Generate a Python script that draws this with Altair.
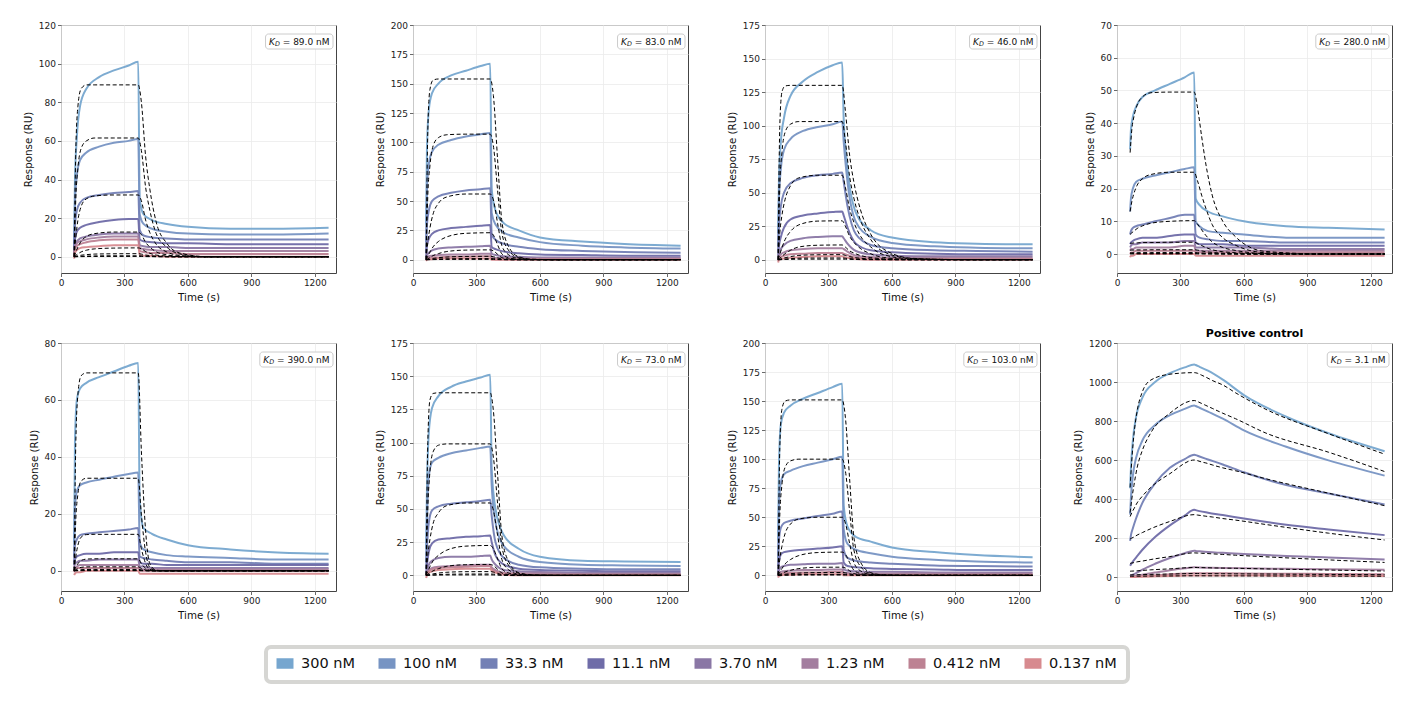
import altair as alt
import pandas as pd

FONT = "DejaVu Sans"

CONC = ["300 nM", "100 nM", "33.3 nM", "11.1 nM", "3.70 nM", "1.23 nM", "0.412 nM", "0.137 nM"]
COLORS = ["#76a6cf", "#7794c3", "#7380b5", "#6f6ca8", "#8a77a5", "#a37e9f", "#bd8293", "#d78a8f"]

T_OBS = [62, 66, 75, 90, 120, 180, 250, 320, 365, 372, 390, 430, 500, 600, 800, 1000, 1265]
T_FIT = [62, 70, 80, 95, 120, 160, 250, 365, 380, 400, 420, 450, 500, 560, 700, 1000, 1265]
X_TICKS = [0, 300, 600, 900, 1200]

KD_TEXT = ["89.0", "83.0", "46.0", "280.0", "390.0", "73.0", "103.0", "3.1"]
TITLES = ["", "", "", "", "", "", "", "Positive control"]
Y_MIN = [-8.4, -11.3, -9.9, -5.8, -7.1, -11.8, -13.5, -71.5]
Y_MAX = [120, 200, 175, 70, 80, 175, 200, 1200]
Y_STEP = [20, 25, 25, 10, 20, 25, 25, 200]

# ---------------- panel 1 (KD 89 nM) ----------------
P1_OBS = [
    [5, 40, 62, 78, 87, 93, 96.5, 99, 101, 30, 22, 19, 17, 15.5, 14.5, 14.5, 15],
    [3, 28, 42, 50, 54, 57, 59, 60, 61, 22, 17, 14.5, 13, 12, 11.5, 11.5, 12],
    [2, 16, 24, 28, 30.5, 32, 33, 33.5, 34, 14, 11, 10, 9.5, 9, 9, 9, 9],
    [1, 9, 13, 15, 16.5, 18, 19, 19.5, 19.5, 9, 8, 7.5, 7, 7, 6.5, 6.5, 6.5],
    [1, 6, 8, 9.5, 10.5, 11.5, 12, 12, 12, 6, 5.5, 5, 5, 4.5, 4.5, 4.5, 4.5],
    [0.5, 5, 7, 8, 9, 10, 10.5, 10.5, 10.5, 4.5, 4, 3.5, 3, 3, 3, 3, 3],
    [0, 4, 5.5, 6.5, 7.5, 8.5, 9, 9, 9, 3, 2.5, 2, 2, 1.5, 1.5, 1.5, 1.5],
    [-1, 2, 3.5, 4.5, 5, 5.5, 6, 6, 6, 1, 0.5, 0.5, 0, 0, 0, 0, 0],
]
P1_FIT = [
    [0, 55, 78, 87, 89, 89, 89, 89, 80, 52, 35, 18, 7, 2, 0, 0, 0],
    [0, 30, 46, 56, 60, 61.5, 61.5, 61.5, 55, 36, 24, 12, 5, 1.5, 0, 0, 0],
    [0, 10, 19, 26, 30, 31.5, 32, 32, 29, 19, 12.5, 6.5, 2.5, 0.7, 0, 0, 0],
    [0, 2.5, 5, 8, 10.5, 12, 12.8, 12.8, 11.5, 7.5, 5, 2.6, 1, 0.3, 0, 0, 0],
    [0, 0.7, 1.5, 2.5, 3.4, 4.1, 4.5, 4.6, 4.1, 2.7, 1.8, 0.9, 0.4, 0.1, 0, 0, 0],
    [0, 0.2, 0.5, 0.8, 1.1, 1.4, 1.55, 1.6, 1.4, 0.9, 0.6, 0.3, 0.1, 0, 0, 0, 0],
    [0, 0.1, 0.15, 0.25, 0.35, 0.45, 0.5, 0.5, 0.45, 0.3, 0.2, 0.1, 0.05, 0, 0, 0, 0],
    [0, 0.02, 0.05, 0.08, 0.12, 0.15, 0.18, 0.18, 0.16, 0.1, 0.07, 0.03, 0.01, 0, 0, 0, 0],
]

# ---------------- panel 2 (KD 83 nM) ----------------
P2_OBS = [
    [30, 95, 128, 142, 150, 157, 161, 165, 167, 60, 42, 31, 25, 19, 15.5, 13.5, 12],
    [15, 60, 82, 92, 98, 102, 105, 107, 108, 40, 30, 23, 19, 15, 12, 10.5, 9.5],
    [6, 30, 42, 50, 54, 57, 59, 60, 61, 22, 17, 13.5, 11, 9, 7.5, 6.5, 6],
    [2, 12, 18, 22, 25, 27, 28, 29, 29.5, 11, 9, 7, 5.5, 4.5, 4, 3.5, 3.5],
    [1, 4, 6, 8, 9.5, 10.5, 11, 11.5, 12, 5, 4, 3, 2.5, 2, 2, 2, 2],
    [0, 2, 3, 3.5, 4, 4.5, 4.5, 5, 5, 2, 1.5, 1.5, 1, 1, 1, 1, 1],
    [0, 1, 1.5, 2, 2, 2.5, 2.5, 3, 3, 1, 0.5, 0.5, 0.5, 0.5, 0.5, 0.5, 0.5],
    [-1, 0, 0.5, 0.5, 1, 1, 1, 1, 1, 0, 0, 0, 0, 0, 0, 0, 0],
]
P2_FIT = [
    [0, 110, 145, 153, 154, 154, 154, 154, 140, 85, 33, 12, 2.5, 0.5, 0, 0, 0],
    [0, 55, 80, 97, 104, 106.5, 107, 107, 97, 59, 23, 8.5, 1.8, 0.3, 0, 0, 0],
    [0, 15, 27, 39, 48, 53.5, 56, 56, 51, 31, 12, 4.5, 1, 0.2, 0, 0, 0],
    [0, 3, 6.5, 11, 15.5, 19.5, 22.5, 23, 21, 12.7, 5, 1.8, 0.4, 0.1, 0, 0, 0],
    [0, 0.8, 2, 3.5, 5.2, 7, 8.2, 8.4, 7.6, 4.6, 1.8, 0.7, 0.15, 0, 0, 0, 0],
    [0, 0.3, 0.6, 1.1, 1.7, 2.3, 2.8, 2.9, 2.6, 1.6, 0.6, 0.2, 0.05, 0, 0, 0, 0],
    [0, 0.1, 0.2, 0.4, 0.6, 0.8, 0.95, 1.0, 0.9, 0.55, 0.2, 0.08, 0, 0, 0, 0, 0],
    [0, 0.03, 0.07, 0.12, 0.2, 0.26, 0.3, 0.3, 0.27, 0.17, 0.07, 0.02, 0, 0, 0, 0, 0],
]

# ---------------- panel 3 (KD 46 nM) ----------------
P3_OBS = [
    [20, 60, 88, 106, 122, 133, 140, 145, 147, 105, 68, 35, 22, 16.5, 13, 12, 11.5],
    [10, 45, 68, 82, 90, 96, 99, 101, 103, 88, 58, 28, 17, 12.5, 10, 9, 8.5],
    [6, 25, 40, 50, 57, 61, 63, 64, 65, 58, 40, 19, 11, 8.5, 7, 6.5, 6],
    [3, 10, 17, 24, 30, 33, 34.5, 35.5, 36, 33, 24, 12, 7, 5.5, 4.5, 4, 4],
    [1, 4, 8, 11, 14, 16, 17, 17.5, 17.5, 16, 12, 6.5, 4, 3, 2.5, 2.5, 2.5],
    [0, 2, 4, 5.5, 7, 8, 8.5, 8.5, 8.5, 8, 6, 3, 2, 1.5, 1.5, 1.5, 1.5],
    [-1, 1, 2, 3, 4, 4.5, 5, 5, 5, 4.5, 3.5, 1.5, 1, 0.5, 0.5, 0.5, 0.5],
    [-2, 0, 0.5, 1, 1.5, 2, 2.5, 2.5, 2.5, 2, 1.5, 0.5, 0, 0, 0, 0, 0],
]
P3_FIT = [
    [0, 100, 125, 129.5, 130, 130, 130, 130, 111, 78, 58, 38, 19, 8, 1, 0, 0],
    [0, 55, 80, 95, 101, 103, 103, 103, 88, 62, 46, 30, 15, 6, 0.8, 0, 0],
    [0, 20, 33, 45, 55, 61, 63, 63, 54, 38, 28, 18, 9.5, 3.8, 0.5, 0, 0],
    [0, 4, 9, 15, 21, 26, 28.8, 29, 25, 17.5, 13, 8.5, 4.4, 1.7, 0.2, 0, 0],
    [0, 1, 2.5, 4.5, 7, 9.5, 10.8, 11, 9.4, 6.6, 5, 3.2, 1.6, 0.7, 0.1, 0, 0],
    [0, 0.3, 0.8, 1.5, 2.3, 3.2, 3.7, 3.8, 3.2, 2.3, 1.7, 1.1, 0.6, 0.2, 0, 0, 0],
    [0, 0.1, 0.25, 0.5, 0.8, 1.1, 1.28, 1.3, 1.1, 0.8, 0.6, 0.4, 0.2, 0.08, 0, 0, 0],
    [0, 0.03, 0.08, 0.17, 0.27, 0.37, 0.44, 0.45, 0.38, 0.27, 0.2, 0.13, 0.07, 0.03, 0, 0, 0],
]

# ---------------- panel 4 (KD 280 nM) ----------------
P4_OBS = [
    [32, 38, 42, 45, 48, 50, 52, 54, 55.5, 17, 15, 13, 11.5, 10, 8.5, 8, 7.5],
    [13, 17, 20, 22, 23, 24, 25, 26, 26.5, 10, 8.5, 7, 6.5, 6, 5, 5, 5],
    [6, 7, 8, 8.5, 9, 10, 11, 12, 12, 6, 5, 4.5, 4, 4, 3.5, 3.5, 3.5],
    [3, 3.5, 4, 4.5, 5, 5, 5.5, 6, 6, 3.5, 3, 3, 3, 2.5, 2.5, 2.5, 2.5],
    [2, 2.5, 3, 3, 3.5, 3.5, 3.5, 4, 4, 2, 2, 2, 2, 2, 1.5, 1.5, 1.5],
    [1, 1.5, 1.5, 2, 2, 2, 2, 2.5, 2.5, 1, 1, 1, 1, 1, 1, 1, 1],
    [0, 0.5, 0.5, 1, 1, 1, 1, 1, 1, 0.5, 0.5, 0.5, 0.5, 0.5, 0.5, 0.5, 0.5],
    [-1, -0.5, -0.5, 0, 0, 0, 0, 0, 0, -0.5, -0.5, -0.5, -0.5, -0.5, -0.5, -0.5, -0.5],
]
P4_FIT = [
    [31, 38, 42, 45.5, 48, 49.3, 49.5, 49.5, 45, 36, 27.5, 18, 10, 5.3, 0.8, 0, 0],
    [13, 16, 18.5, 21, 23, 24.3, 25, 25, 22.5, 18, 14, 9, 5, 2.7, 0.4, 0, 0],
    [6, 6.5, 7, 7.8, 8.6, 9.4, 10, 10.2, 9.2, 7.4, 5.7, 3.7, 2, 1.1, 0.15, 0, 0],
    [3.3, 3.3, 3.4, 3.4, 3.5, 3.5, 3.6, 3.6, 3.2, 2.6, 2, 1.3, 0.7, 0.4, 0.05, 0, 0],
    [1.2, 1.2, 1.2, 1.25, 1.25, 1.3, 1.3, 1.3, 1.2, 0.95, 0.7, 0.5, 0.25, 0.14, 0, 0, 0],
    [0.4, 0.4, 0.4, 0.42, 0.43, 0.44, 0.45, 0.45, 0.4, 0.32, 0.25, 0.16, 0.09, 0.05, 0, 0, 0],
    [0.13, 0.13, 0.14, 0.14, 0.14, 0.15, 0.15, 0.15, 0.13, 0.11, 0.08, 0.05, 0.03, 0.02, 0, 0, 0],
    [0.04, 0.04, 0.05, 0.05, 0.05, 0.05, 0.05, 0.05, 0.045, 0.035, 0.03, 0.02, 0.01, 0.005, 0, 0, 0],
]

# ---------------- panel 5 (KD 390 nM) ----------------
P5_OBS = [
    [10, 45, 60, 64, 66, 68, 70, 72, 73, 25, 15, 13, 11, 9, 7.5, 6.5, 6],
    [5, 22, 28, 30, 31, 32, 33, 34, 34.5, 10, 7.5, 6.5, 5.5, 5, 4.5, 4, 4],
    [3, 9, 11, 12.5, 13, 13.5, 14, 14.5, 15, 5, 4.5, 4, 3.5, 3, 3, 2.5, 2.5],
    [2, 4, 5, 5.5, 6, 6, 6.5, 6.5, 6.5, 3, 2.5, 2.5, 2, 2, 2, 2, 2],
    [1, 2.5, 3, 3.5, 3.5, 4, 4, 4, 4, 1.5, 1.5, 1, 1, 1, 1, 1, 1],
    [0, 1, 1.5, 2, 2, 2, 2, 2, 2, 0.5, 0.5, 0.5, 0.5, 0.5, 0.5, 0.5, 0.5],
    [-0.5, 0.5, 1, 1, 1, 1, 1, 1, 1, 0, 0, 0, 0, 0, 0, 0, 0],
    [-1.5, -1, -0.5, -0.5, 0, 0, 0, 0, 0, -1, -1, -1, -1, -1, -1, -1, -1],
]
P5_FIT = [
    [0, 45, 62, 68.5, 69.5, 69.5, 69.5, 69.5, 42, 14, 2.5, 0.2, 0, 0, 0, 0, 0],
    [0, 18, 27, 31.5, 32.5, 32.5, 32.5, 32.5, 19.5, 6.5, 1.2, 0.1, 0, 0, 0, 0, 0],
    [0, 5, 9, 11.8, 12.7, 12.8, 12.8, 12.8, 7.7, 2.6, 0.5, 0.05, 0, 0, 0, 0, 0],
    [0, 1.3, 2.5, 3.6, 4.1, 4.2, 4.2, 4.2, 2.5, 0.85, 0.15, 0, 0, 0, 0, 0, 0],
    [0, 0.4, 0.8, 1.2, 1.37, 1.4, 1.4, 1.4, 0.85, 0.28, 0.05, 0, 0, 0, 0, 0, 0],
    [0, 0.13, 0.27, 0.4, 0.46, 0.47, 0.47, 0.47, 0.28, 0.1, 0.02, 0, 0, 0, 0, 0, 0],
    [0, 0.05, 0.09, 0.13, 0.15, 0.16, 0.16, 0.16, 0.1, 0.03, 0, 0, 0, 0, 0, 0, 0],
    [0, 0.015, 0.03, 0.045, 0.05, 0.05, 0.05, 0.05, 0.03, 0.01, 0, 0, 0, 0, 0, 0, 0],
]

# ---------------- panel 6 (KD 73 nM) ----------------
P6_OBS = [
    [20, 65, 108, 126, 135, 142, 146, 149, 151, 80, 50, 30, 20, 14, 11, 10.5, 10],
    [10, 40, 75, 85, 88.5, 92, 94, 96, 97, 68, 40, 22, 14, 10, 8, 7.5, 7],
    [5, 20, 40, 49, 52, 54, 55, 56, 57, 45, 25, 13, 8, 6, 5, 4.5, 4.5],
    [2, 8, 18, 24, 27, 28, 29, 29.5, 30, 25, 15, 8, 5, 4, 3.5, 3, 3],
    [1, 3, 8, 11, 13, 14, 14, 14.5, 15, 12, 8, 4, 3, 2.5, 2, 2, 2],
    [0, 2, 4, 5.5, 6.5, 7, 7.5, 8, 8, 6, 4, 2, 1.5, 1.5, 1, 1, 1],
    [0, 1.5, 3, 4.5, 5.5, 6, 6.5, 7, 7, 5, 3, 1.5, 1, 0.5, 0.5, 0.5, 0.5],
    [-2, 0, 2, 3, 4, 4.5, 5, 5, 5, 3.5, 2, 0.5, 0, 0, 0, 0, 0],
]
P6_FIT = [
    [0, 100, 132, 137, 137.5, 137.5, 137.5, 137.5, 124, 76, 30, 11, 2, 0.4, 0, 0, 0],
    [0, 50, 78, 93, 98, 99, 99, 99, 89, 54, 22, 8, 1.5, 0.3, 0, 0, 0],
    [0, 15, 27, 39, 47, 52.5, 54.5, 54.5, 49, 30, 12, 4.4, 0.8, 0.15, 0, 0, 0],
    [0, 3, 6.5, 11, 15, 19, 22, 22.5, 20, 12.4, 5, 1.8, 0.35, 0.07, 0, 0, 0],
    [0, 0.8, 1.9, 3.4, 5, 6.8, 8, 8.2, 7.4, 4.5, 1.8, 0.65, 0.12, 0, 0, 0, 0],
    [0, 0.25, 0.6, 1.1, 1.7, 2.3, 2.75, 2.8, 2.5, 1.5, 0.6, 0.2, 0.04, 0, 0, 0, 0],
    [0, 0.08, 0.2, 0.37, 0.58, 0.8, 0.97, 1.0, 0.9, 0.55, 0.22, 0.08, 0.015, 0, 0, 0, 0],
    [0, 0.03, 0.07, 0.12, 0.19, 0.26, 0.3, 0.3, 0.27, 0.17, 0.07, 0.02, 0, 0, 0, 0, 0],
]

# ---------------- panel 7 (KD 103 nM) ----------------
P7_OBS = [
    [30, 95, 130, 140, 146, 152, 157, 162, 165, 60, 42, 33, 29, 24, 20, 17.5, 15.5],
    [15, 60, 80, 87, 90, 94, 97, 100, 102, 40, 27, 22, 19, 16, 13.5, 12, 11],
    [8, 30, 41, 45, 47, 49, 51, 53, 55, 22, 15, 12.5, 11, 10, 8.5, 8, 7.5],
    [3, 12, 18, 20, 21, 22, 23, 24, 25, 11, 8, 7, 6, 5.5, 5, 4.5, 4.5],
    [1, 4, 7, 8, 9, 9.5, 10, 10, 10.5, 5, 4, 3.5, 3, 3, 2.5, 2.5, 2.5],
    [0, 1.5, 3, 3.5, 4, 4.5, 4.5, 5, 5, 2.5, 2, 1.5, 1.5, 1.5, 1.5, 1.5, 1.5],
    [-1, 0.5, 1.5, 2, 2, 2.5, 2.5, 3, 3, 1, 1, 0.5, 0.5, 0.5, 0.5, 0.5, 0.5],
    [-2, -0.5, 0, 0.5, 0.5, 1, 1, 1, 1, 0, 0, 0, 0, 0, 0, 0, 0],
]
P7_FIT = [
    [0, 110, 143, 150, 151, 151, 151, 151, 136, 83, 33, 12, 2.3, 0.4, 0, 0, 0],
    [0, 52, 78, 93, 98.5, 100, 100, 100, 90, 55, 22, 8, 1.5, 0.3, 0, 0, 0],
    [0, 14, 25, 36, 44, 48.5, 50, 50, 45, 27.5, 11, 4, 0.75, 0.15, 0, 0, 0],
    [0, 2.7, 5.8, 9.8, 13.5, 17, 19.6, 20, 18, 11, 4.4, 1.6, 0.3, 0.06, 0, 0, 0],
    [0, 0.7, 1.6, 2.9, 4.3, 5.8, 6.9, 7, 6.3, 3.9, 1.5, 0.55, 0.1, 0, 0, 0, 0],
    [0, 0.2, 0.5, 0.9, 1.4, 1.9, 2.35, 2.4, 2.15, 1.3, 0.53, 0.19, 0.04, 0, 0, 0, 0],
    [0, 0.07, 0.17, 0.3, 0.47, 0.64, 0.78, 0.8, 0.72, 0.44, 0.18, 0.06, 0.01, 0, 0, 0, 0],
    [0, 0.02, 0.06, 0.1, 0.16, 0.21, 0.26, 0.27, 0.24, 0.15, 0.06, 0.02, 0, 0, 0, 0, 0],
]

# ---------------- panel 8 (positive control, KD 3.1 nM) ----------------
P8_OBS = [
    [455, 560, 700, 820, 920, 1000, 1045, 1075, 1090, 1087, 1078, 1058, 1012, 933, 822, 737, 645],
    [320, 410, 520, 610, 700, 780, 830, 862, 880, 877, 868, 848, 812, 752, 668, 598, 520],
    [185, 215, 250, 300, 380, 480, 560, 605, 627, 625, 618, 603, 577, 537, 472, 428, 372],
    [58, 65, 80, 100, 140, 205, 265, 315, 345, 343, 338, 330, 318, 300, 268, 244, 215],
    [5, 8, 12, 20, 38, 68, 98, 122, 135, 134, 132, 128, 124, 118, 108, 100, 90],
    [0, 1, 3, 6, 12, 23, 35, 45, 50, 50, 49, 48, 47, 45, 42, 40, 37],
    [0, 0.5, 1, 2, 5, 9, 14, 18, 20, 20, 20, 19.5, 19, 18, 17, 16, 14],
    [0, 0, 0.5, 1, 2, 4, 6, 7.5, 8, 8, 8, 8, 7.5, 7.5, 7, 6.5, 6],
]
P8_FIT = [
    [460, 600, 730, 850, 950, 1010, 1040, 1048, 1045, 1035, 1025, 1008, 985, 945, 862, 735, 630],
    [330, 400, 470, 560, 650, 740, 840, 905, 900, 890, 880, 865, 840, 812, 740, 640, 541],
    [310, 330, 350, 380, 415, 460, 530, 600, 597, 590, 585, 575, 560, 545, 505, 430, 366],
    [195, 200, 205, 215, 228, 248, 285, 320, 318, 315, 312, 308, 300, 292, 270, 225, 190],
    [70, 72, 74, 78, 82, 90, 105, 124, 123, 122, 121, 119, 116, 112, 104, 88, 75],
    [30, 30.5, 31, 32, 34, 37, 42, 49, 49, 48.5, 48, 47, 46, 45, 42, 36, 31],
    [11, 11.2, 11.5, 12, 12.5, 13.5, 15.5, 18, 18, 17.8, 17.6, 17.3, 17, 16.5, 15.5, 13.5, 12],
    [4, 4.1, 4.2, 4.4, 4.6, 5, 5.6, 6.5, 6.5, 6.4, 6.3, 6.2, 6.1, 6, 5.6, 4.9, 4.3],
]

OBS = [P1_OBS, P2_OBS, P3_OBS, P4_OBS, P5_OBS, P6_OBS, P7_OBS, P8_OBS]
FIT = [P1_FIT, P2_FIT, P3_FIT, P4_FIT, P5_FIT, P6_FIT, P7_FIT, P8_FIT]

W, H = 275, 248

# approximate DejaVu Sans advance widths (em) for sizing the KD box
CW = {"0": .636, "1": .636, "2": .636, "3": .636, "4": .636, "5": .636, "6": .636,
      "7": .636, "8": .636, "9": .636, ".": .318, " ": .318, "=": .838, "n": .634, "M": .863}


def text_w(s, fs):
    return sum(CW.get(c, .6) for c in s) * fs


def long_df(times, rows):
    recs = []
    for ci, c in enumerate(CONC):
        for t, v in zip(times, rows[ci]):
            recs.append({"t": t, "v": v, "conc": c, "k": ci})
    return pd.DataFrame(recs)


LEGEND = alt.Legend(
    orient="none", legendX=210, legendY=624.5, direction="horizontal", columns=8,
    title=None, symbolType="stroke", symbolSize=289, symbolStrokeWidth=10.5,
    symbolOpacity=1, labelFont=FONT, labelFontSize=14.5, labelColor="#111",
    labelOffset=2, columnPadding=2, padding=0, gridAlign="none"
)


def panel(i):
    xs = alt.Scale(domain=[0, 1300], nice=False, zero=False)
    ys = alt.Scale(domain=[Y_MIN[i], Y_MAX[i]], nice=False, zero=False)
    yticks = list(range(0, Y_MAX[i] + 1, Y_STEP[i]))
    xenc = alt.X("t:Q", scale=xs, axis=alt.Axis(values=X_TICKS, title="Time (s)", format="d"))
    yenc = alt.Y("v:Q", scale=ys, axis=alt.Axis(values=yticks, title="Response (RU)", format="d"))

    obs = alt.Chart(long_df(T_OBS, OBS[i])).mark_line(
        strokeWidth=2, interpolate="monotone", opacity=0.95
    ).encode(
        x=xenc, y=yenc,
        color=alt.Color("conc:N", scale=alt.Scale(domain=CONC, range=COLORS), legend=LEGEND),
    )
    fit = alt.Chart(long_df(T_FIT, FIT[i])).mark_line(
        color="black", strokeWidth=1, strokeDash=[4, 2.5], interpolate="monotone"
    ).encode(x=xenc, y=yenc, detail="conc:N")

    fs = 9
    rest = "= " + KD_TEXT[i] + " nM"
    k_w = 0.656 * fs
    d_fs = 6.4
    d_w = 0.77 * d_fs
    sp = 0.318 * fs
    total = k_w + d_w + sp + text_w(rest, fs)
    right = W - 3
    left = right - total - 7
    base = alt.Chart(pd.DataFrame({"a": [0]}))
    box = base.mark_rect(fill="white", stroke="#cccccc", strokeWidth=1, cornerRadius=3).encode(
        x=alt.value(left), x2=alt.value(right), y=alt.value(9), y2=alt.value(24))
    tk = base.mark_text(text="K", font=FONT, fontSize=fs, fontStyle="italic", align="left",
                        baseline="middle", color="#111").encode(x=alt.value(left + 3.5), y=alt.value(16.5))
    td = base.mark_text(text="D", font=FONT, fontSize=d_fs, fontStyle="italic", align="left",
                        baseline="middle", color="#111").encode(x=alt.value(left + 3.5 + k_w), y=alt.value(19))
    tr = base.mark_text(text=rest, font=FONT, fontSize=fs, align="left",
                        baseline="middle", color="#111").encode(
        x=alt.value(left + 3.5 + k_w + d_w + sp), y=alt.value(16.5))

    layers = [obs, fit, box, tk, td, tr]
    if i == 0:
        # rounded frame drawn around the shared legend
        frame = base.mark_rect(fillOpacity=0, stroke="#d6d6d3", strokeWidth=4, cornerRadius=5).encode(
            x=alt.value(205), x2=alt.value(1067), y=alt.value(622), y2=alt.value(657))
        layers = layers + [frame]
    layer = alt.layer(*layers).properties(width=W, height=H)
    if TITLES[i]:
        layer = layer.properties(title=alt.TitleParams(TITLES[i], frame="group", offset=0))
    return layer


panels = [panel(i) for i in range(8)]
chart = alt.concat(*panels, columns=4, spacing={"row": 70, "column": 77}, bounds="flush").properties(
    padding={"left": 14, "top": 12, "right": 5, "bottom": 5}
).configure_view(stroke="#444", strokeWidth=1).configure_axis(
    labelFont=FONT, labelFontSize=9, labelColor="#222", titleFont=FONT, titleFontSize=10.3,
    titleFontWeight="normal", titleColor="#111", tickColor="#444", tickSize=3.5, tickWidth=0.8,
    domain=False, gridColor="#ebebeb", gridWidth=0.8, labelPadding=2, titlePadding=5,
    labelFlush=False
).configure_title(font=FONT, fontSize=11, fontWeight="bold", color="#000")

chart.save("out.html", embed_options={"renderer": "svg", "actions": False})
